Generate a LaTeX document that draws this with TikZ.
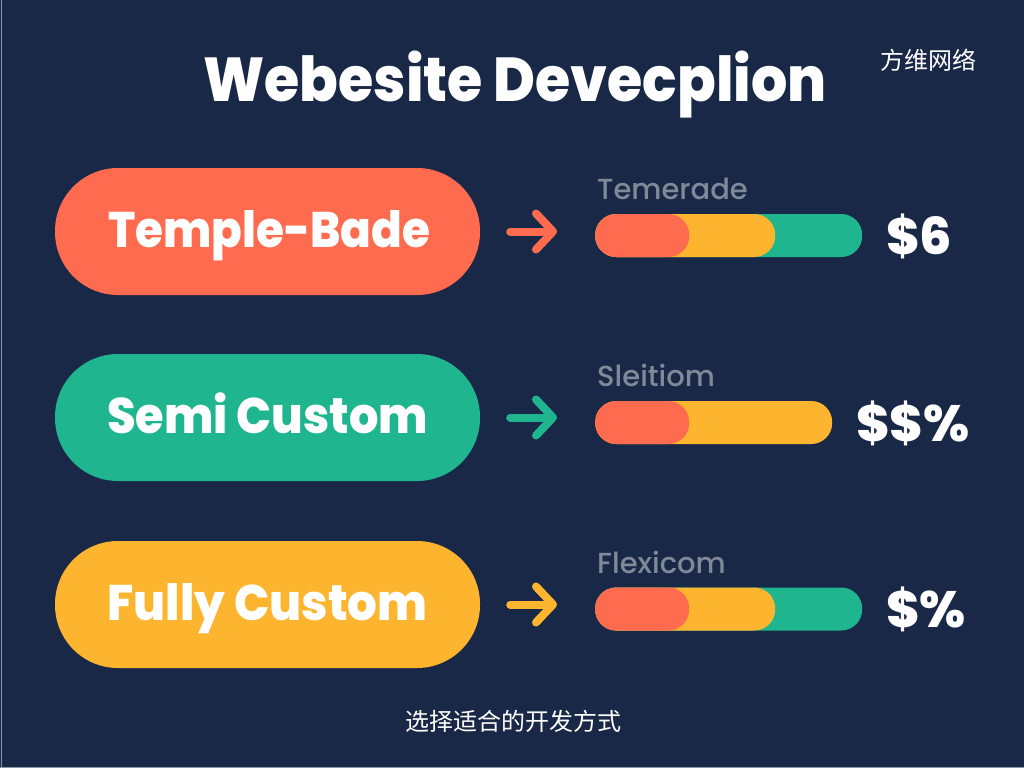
\documentclass[tikz,border=0pt]{standalone}
\usepackage{fontspec}
\setmainfont{Poppins}
\newfontfamily\heavy{Poppins ExtraBold}
\newfontfamily\medi{Poppins Medium}
\newfontfamily\cjk{Noto Sans CJK SC}
\usetikzlibrary{arrows.meta}
\definecolor{bgc}{HTML}{1A2847}
\definecolor{edgec}{HTML}{8C95A8}
\definecolor{redc}{HTML}{FF6B4F}
\definecolor{greenc}{HTML}{1EB58F}
\definecolor{yellowc}{HTML}{FDB52F}
\definecolor{grayc}{HTML}{7F8997}
\newcommand{\narrowed}[2]{\scalebox{#1}[1]{#2}}
\tikzset{
  pill/.style={rounded corners=63pt,minimum width=425pt,minimum height=127pt,inner sep=0pt,text=white,
    font=\heavy\fontsize{50}{54}\selectfont,text height=38pt,text depth=7pt},
  seg/.style={rounded corners=21pt,minimum height=43pt,inner sep=0pt,anchor=west},
  conn/.style={line width=8pt,line cap=round,line join=round,-{Straight Barb[length=17pt,width=36pt,line width=8pt,round]},shorten <=30pt,shorten >=38pt},
  captxt/.style={text=grayc,font=\medi\fontsize{29}{33}\selectfont,anchor=west,inner sep=0pt},
  price/.style={text=white,font=\heavy\fontsize{51}{55}\selectfont,anchor=west,inner sep=0pt},
  cjktext/.style={text=white,font=\cjk\fontsize{24}{28}\selectfont,inner sep=0pt},
}
\begin{document}
\begin{tikzpicture}[x=1pt,y=-1pt]
\useasboundingbox (0,0) rectangle (1024,768);
\fill[bgc] (0,0) rectangle (1024,768);
\fill[edgec] (0.6,0) rectangle (1.4,768);
\fill[edgec] (0,766.6) rectangle (1024,767.4);

\node[text=white,font=\heavy\fontsize{62}{66}\selectfont,inner sep=0pt] (title) at (515,85) {\narrowed{0.92}{Webesite Devecplion}};
\node[cjktext] (brand) at (928,60) {方维网络};
\node[cjktext] (foot) at (513,721) {选择适合的开发方式};

% row 1
\node[pill,fill=redc] (p1) at (267.5,231.5) {\hspace*{3pt}\narrowed{0.905}{Temple-Bade}};
\node[captxt] (c1) at (597,189) {Temerade};
\node[seg,fill=greenc,minimum width=267pt] (b1g) at (595,235.5) {};
\node[seg,fill=yellowc,minimum width=180pt] (b1y) at (595,235.5) {};
\node[seg,fill=redc,minimum width=94pt] (b1r) at (595,235.5) {};
\node[price] (v1) at (886,236) {\$6};
\draw[conn,redc] (p1.east) -- (p1.east -| b1r.west);

% row 2
\node[pill,fill=greenc] (p2) at (267.5,417.5) {\narrowed{0.925}{Semi Custom}};
\node[captxt] (c2) at (597,375) {Sleitiom};
\node[seg,fill=yellowc,minimum width=237pt] (b2y) at (595,422.5) {};
\node[seg,fill=redc,minimum width=94pt] (b2r) at (595,422.5) {};
\node[price] (v2) at (856,423) {\$\$\%};
\draw[conn,greenc] (p2.east) -- (p2.east -| b2r.west);

% row 3
\node[pill,fill=yellowc] (p3) at (267.5,604.5) {\narrowed{0.935}{Fully Custom}};
\node[captxt] (c3) at (597,562) {Flexicom};
\node[seg,fill=greenc,minimum width=267pt] (b3g) at (595,609) {};
\node[seg,fill=yellowc,minimum width=180pt] (b3y) at (595,609) {};
\node[seg,fill=redc,minimum width=94pt] (b3r) at (595,609) {};
\node[price] (v3) at (886,609) {\$\%};
\draw[conn,yellowc] (p3.east) -- (p3.east -| b3r.west);
\end{tikzpicture}
\end{document}
